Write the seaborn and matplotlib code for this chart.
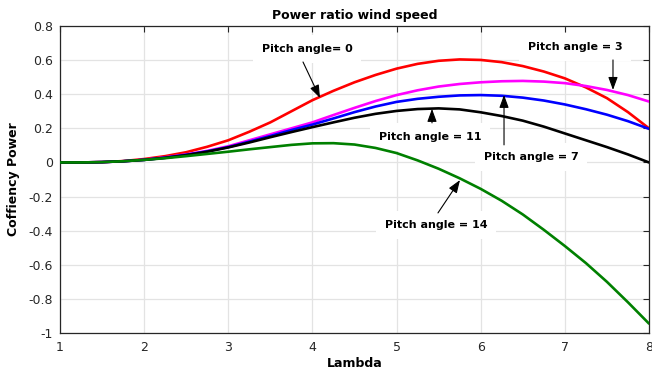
import numpy as np
import pandas as pd
import matplotlib
matplotlib.use("Agg")
import matplotlib.pyplot as plt
import seaborn as sns

# ---- data ----
lam = [1.0, 1.25, 1.5, 1.75, 2.0, 2.25, 2.5, 2.75, 3.0, 3.25, 3.5, 3.75, 4.0, 4.25,
       4.5, 4.75, 5.0, 5.25, 5.5, 5.75, 6.0, 6.25, 6.5, 6.75, 7.0, 7.25, 7.5, 7.75, 8.0]

cp_pitch0 = [0.0, 0.0, 0.002, 0.008, 0.02, 0.037, 0.06, 0.092, 0.13, 0.18, 0.235, 0.30,
             0.365, 0.42, 0.47, 0.513, 0.55, 0.578, 0.596, 0.604, 0.601, 0.588, 0.565,
             0.533, 0.493, 0.44, 0.377, 0.295, 0.20]
cp_pitch3 = [0.0, 0.0, 0.002, 0.007, 0.016, 0.03, 0.047, 0.068, 0.095, 0.13, 0.165, 0.20,
             0.235, 0.278, 0.32, 0.36, 0.395, 0.423, 0.445, 0.46, 0.47, 0.476, 0.478,
             0.474, 0.465, 0.448, 0.425, 0.395, 0.357]
cp_pitch7 = [0.0, 0.0, 0.002, 0.007, 0.015, 0.028, 0.045, 0.065, 0.09, 0.122, 0.155, 0.19,
             0.222, 0.258, 0.295, 0.328, 0.355, 0.373, 0.385, 0.393, 0.395, 0.391, 0.38,
             0.363, 0.34, 0.312, 0.28, 0.242, 0.197]
cp_pitch11 = [0.0, 0.0, 0.002, 0.007, 0.015, 0.027, 0.043, 0.063, 0.088, 0.117, 0.148, 0.178,
              0.207, 0.235, 0.262, 0.285, 0.302, 0.313, 0.317, 0.311, 0.294, 0.272, 0.245,
              0.21, 0.17, 0.13, 0.09, 0.047, 0.0]
cp_pitch14 = [0.0, 0.0, 0.002, 0.007, 0.015, 0.025, 0.037, 0.05, 0.063, 0.077, 0.09, 0.103,
              0.112, 0.113, 0.105, 0.085, 0.055, 0.012, -0.037, -0.093, -0.155, -0.225,
              -0.305, -0.395, -0.49, -0.59, -0.70, -0.82, -0.945]

series_names = ["Pitch 0", "Pitch 3", "Pitch 7", "Pitch 11", "Pitch 14"]
series_colors = ["#ff0000", "#ff00ff", "#0000ff", "#000000", "#008000"]

x_ticks = [1, 2, 3, 4, 5, 6, 7, 8]
y_ticks = [-1, -0.8, -0.6, -0.4, -0.2, 0, 0.2, 0.4, 0.6, 0.8]
y_tick_labels = ["-1", "-0.8", "-0.6", "-0.4", "-0.2", "0", "0.2", "0.4", "0.6", "0.8"]

# annotation labels: (text, text position, arrow tail, arrow tip) in data units
ann_texts = ["Pitch angle= 0", "Pitch angle = 3", "Pitch angle = 11", "Pitch angle = 7", "Pitch angle = 14"]
ann_text_xy = [(3.936, 0.666), (7.12, 0.677), (5.397, 0.150), (6.598, 0.032), (5.469, -0.366)]
ann_tail_xy = [(3.888, 0.589), (7.572, 0.601), (5.421, 0.232), (6.277, 0.103), (5.492, -0.296)]
ann_tip_xy = [(4.09, 0.378), (7.572, 0.425), (5.421, 0.314), (6.277, 0.396), (5.754, -0.103)]

# ---- build long-form table ----
df = pd.concat([
    pd.DataFrame({"Lambda": lam, "Cp": vals, "series": name})
    for name, vals in zip(series_names, [cp_pitch0, cp_pitch3, cp_pitch7, cp_pitch11, cp_pitch14])
], ignore_index=True)

sns.set_theme(style="whitegrid")
plt.rcParams["font.family"] = ["DejaVu Sans"]
plt.rcParams["axes.unicode_minus"] = False

fig = plt.figure(figsize=(6.52, 3.71), dpi=100)
ax = fig.add_axes([60 / 652, 1 - 333 / 371, 589 / 652, 307 / 371])

sns.lineplot(data=df, x="Lambda", y="Cp", hue="series", palette=series_colors,
             hue_order=series_names, linewidth=1.9, legend=False, ax=ax, zorder=3)

ax.set_xlim(1, 8)
ax.set_ylim(-1, 0.8)
ax.set_xticks(x_ticks)
ax.set_xticklabels([str(t) for t in x_ticks])
ax.set_yticks(y_ticks)
ax.set_yticklabels(y_tick_labels)

ax.set_facecolor("white")
ax.grid(True, color="#e3e3e3", linewidth=0.9)
for s in ax.spines.values():
    s.set_visible(True)
    s.set_color("#262626")
    s.set_linewidth(0.9)
ax.tick_params(direction="in", top=True, right=True, length=4, width=0.8,
               color="#262626", labelsize=9, labelcolor="#262626", pad=6)
ax.tick_params(axis="y", pad=5)

ax.set_title("Power ratio wind speed", fontsize=9, fontweight="bold", pad=5, color="black")
ax.set_xlabel("Lambda", fontsize=9, fontweight="bold", labelpad=2, color="black")
ax.set_ylabel("Coffiency Power", fontsize=9, fontweight="bold", labelpad=6, color="black")

for txt, txy, tail, tip in zip(ann_texts, ann_text_xy, ann_tail_xy, ann_tip_xy):
    ax.text(txy[0], txy[1], txt, ha="center", va="center", fontsize=8, fontweight="bold",
            color="black", zorder=1.5,
            bbox=dict(boxstyle="square,pad=0.8", facecolor="white", edgecolor="none"))
    ax.annotate("", xy=tip, xytext=tail,
                arrowprops=dict(arrowstyle="-|>,head_length=0.6,head_width=0.22",
                                color="black", lw=0.8, shrinkA=0, shrinkB=0,
                                mutation_scale=13),
                zorder=4)

fig.savefig("out.png", dpi=100, facecolor="white")
